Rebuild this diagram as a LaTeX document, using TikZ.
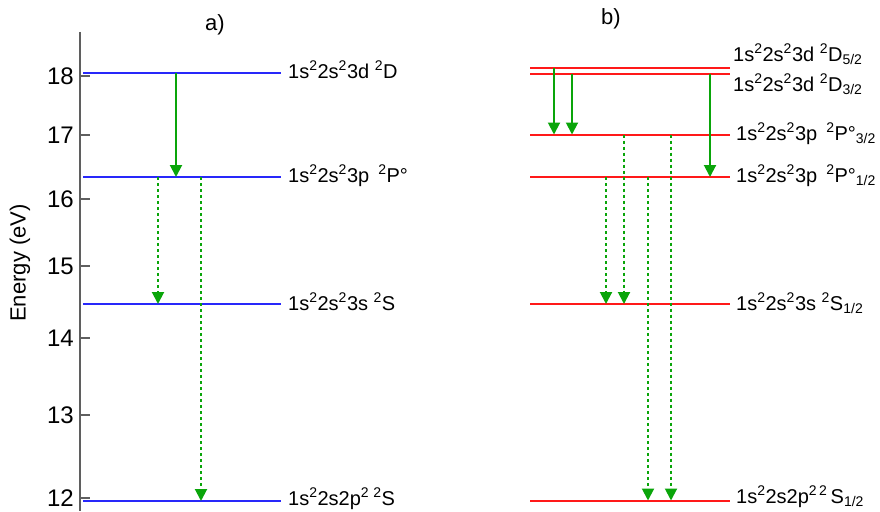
\documentclass[tikz,border=0pt]{standalone}
\usepackage{fontspec}
\setmainfont{Liberation Sans}
\usetikzlibrary{arrows.meta}
\definecolor{lvlblue}{RGB}{40,40,250}
\definecolor{lvlred}{RGB}{255,25,25}
\definecolor{decaygreen}{RGB}{10,165,10}
\definecolor{axisgray}{RGB}{95,95,95}
\newcommand{\supx}[1]{\textsuperscript{#1}}
\newcommand{\subx}[1]{\textsubscript{#1}}
\newcommand{\gapx}{\hspace{0.45em}}

\begin{document}
\begin{tikzpicture}[x=1pt, y=-1pt, font=\fontsize{20}{24}\selectfont,
  level/.style={line width=2pt},
  levlabel/.style={anchor=base west, inner sep=0pt},
  decay/.style={decaygreen, line width=2pt, -{Triangle[width=12pt,length=12pt]}},
  slowdecay/.style={decay, dash pattern=on 3pt off 3pt}]

\useasboundingbox (0,0) rectangle (880,511);

% ── Energy axis ──────────────────────────────────────────────────────────────
\draw[axisgray, line width=1.5pt] (80,32) coordinate (axtop) -- (80,511) coordinate (axbot);
\foreach \v/\yy in {18/76,17/135,16/199,15/266,14/338,13/415,12/498}{
  \draw[axisgray, line width=1.2pt] (80,\yy) -- (90,\yy);
  \node[anchor=east, inner sep=0pt, font=\fontsize{24}{28}\selectfont] (tick\v) at (74,\yy) {\v};
}
\node[rotate=90, font=\fontsize{22}{26}\selectfont] (ylab) at (20,263) {Energy (eV)};

% ════════════════════════════════════════════════════════════════════════════
% PANEL a) -- LS terms
% ════════════════════════════════════════════════════════════════════════════
\node[font=\fontsize{22}{26}\selectfont] (tita) at (215,25) {a)};

\draw[level, lvlblue] (83,73) -- (281,73) coordinate (aD);
\draw[level, lvlblue] (83,177) -- (281,177) coordinate (aP);
\draw[level, lvlblue] (83,304) -- (281,304) coordinate (aS);
\draw[level, lvlblue] (83,501) -- (281,501) coordinate (aG);

\node[levlabel] (aDlab) at (288,78) {1s\supx{2}2s\supx{2}3d \supx{2}D};
\node[levlabel] (aPlab) at (288,182) {1s\supx{2}2s\supx{2}3p\gapx\supx{2}P°};
\node[levlabel] (aSlab) at (288,310) {1s\supx{2}2s\supx{2}3s \supx{2}S};
\node[levlabel] (aGlab) at (288,505) {1s\supx{2}2s2p\supx{2\,\,2}S};

% arrow columns
\coordinate (ca1) at (176,0);
\coordinate (ca2) at (158,0);
\coordinate (ca3) at (201,0);

\draw[decay]     (ca1 |- aD) -- (ca1 |- aP);
\draw[slowdecay] (ca2 |- aP) -- (ca2 |- aS);
\draw[slowdecay] (ca3 |- aP) -- (ca3 |- aG);

% ════════════════════════════════════════════════════════════════════════════
% PANEL b) -- fine structure
% ════════════════════════════════════════════════════════════════════════════
\node[font=\fontsize{22}{26}\selectfont] (titb) at (611,19) {b)};

\draw[level, lvlred] (530,68) -- (730,68) coordinate (bD5);
\draw[level, lvlred] (530,73.5) -- (730,73.5) coordinate (bD3);
\draw[level, lvlred] (530,134.5) -- (730,134.5) coordinate (bP3);
\draw[level, lvlred] (530,177) -- (730,177) coordinate (bP1);
\draw[level, lvlred] (530,304) -- (730,304) coordinate (bS);
\draw[level, lvlred] (530,500.5) -- (730,500.5) coordinate (bG);

\node[levlabel] (bD5lab) at (733,61) {1s\supx{2}2s\supx{2}3d \supx{2}D\subx{5/2}};
\node[levlabel] (bD3lab) at (733,91) {1s\supx{2}2s\supx{2}3d \supx{2}D\subx{3/2}};
\node[levlabel] (bP3lab) at (736,140) {1s\supx{2}2s\supx{2}3p\gapx\supx{2}P°\subx{3/2}};
\node[levlabel] (bP1lab) at (736,182.5) {1s\supx{2}2s\supx{2}3p\gapx\supx{2}P°\subx{1/2}};
\node[levlabel] (bSlab) at (736,310) {1s\supx{2}2s\supx{2}3s \supx{2}S\subx{1/2}};
\node[levlabel] (bGlab) at (736,503) {1s\supx{2}2s2p\supx{2\,2}\,S\subx{1/2}};

% arrow columns
\coordinate (cb1) at (554,0);
\coordinate (cb2) at (572,0);
\coordinate (cb3) at (710,0);
\coordinate (cb4) at (606,0);
\coordinate (cb5) at (624,0);
\coordinate (cb6) at (648,0);
\coordinate (cb7) at (671,0);

\draw[decay]     (cb1 |- bD5) -- (cb1 |- bP3);
\draw[decay]     (cb2 |- bD3) -- (cb2 |- bP3);
\draw[decay]     (cb3 |- bD3) -- (cb3 |- bP1);
\draw[slowdecay] (cb4 |- bP1) -- (cb4 |- bS);
\draw[slowdecay] (cb5 |- bP3) -- (cb5 |- bS);
\draw[slowdecay] (cb6 |- bP1) -- (cb6 |- bG);
\draw[slowdecay] (cb7 |- bP3) -- (cb7 |- bG);

\end{tikzpicture}
\end{document}
